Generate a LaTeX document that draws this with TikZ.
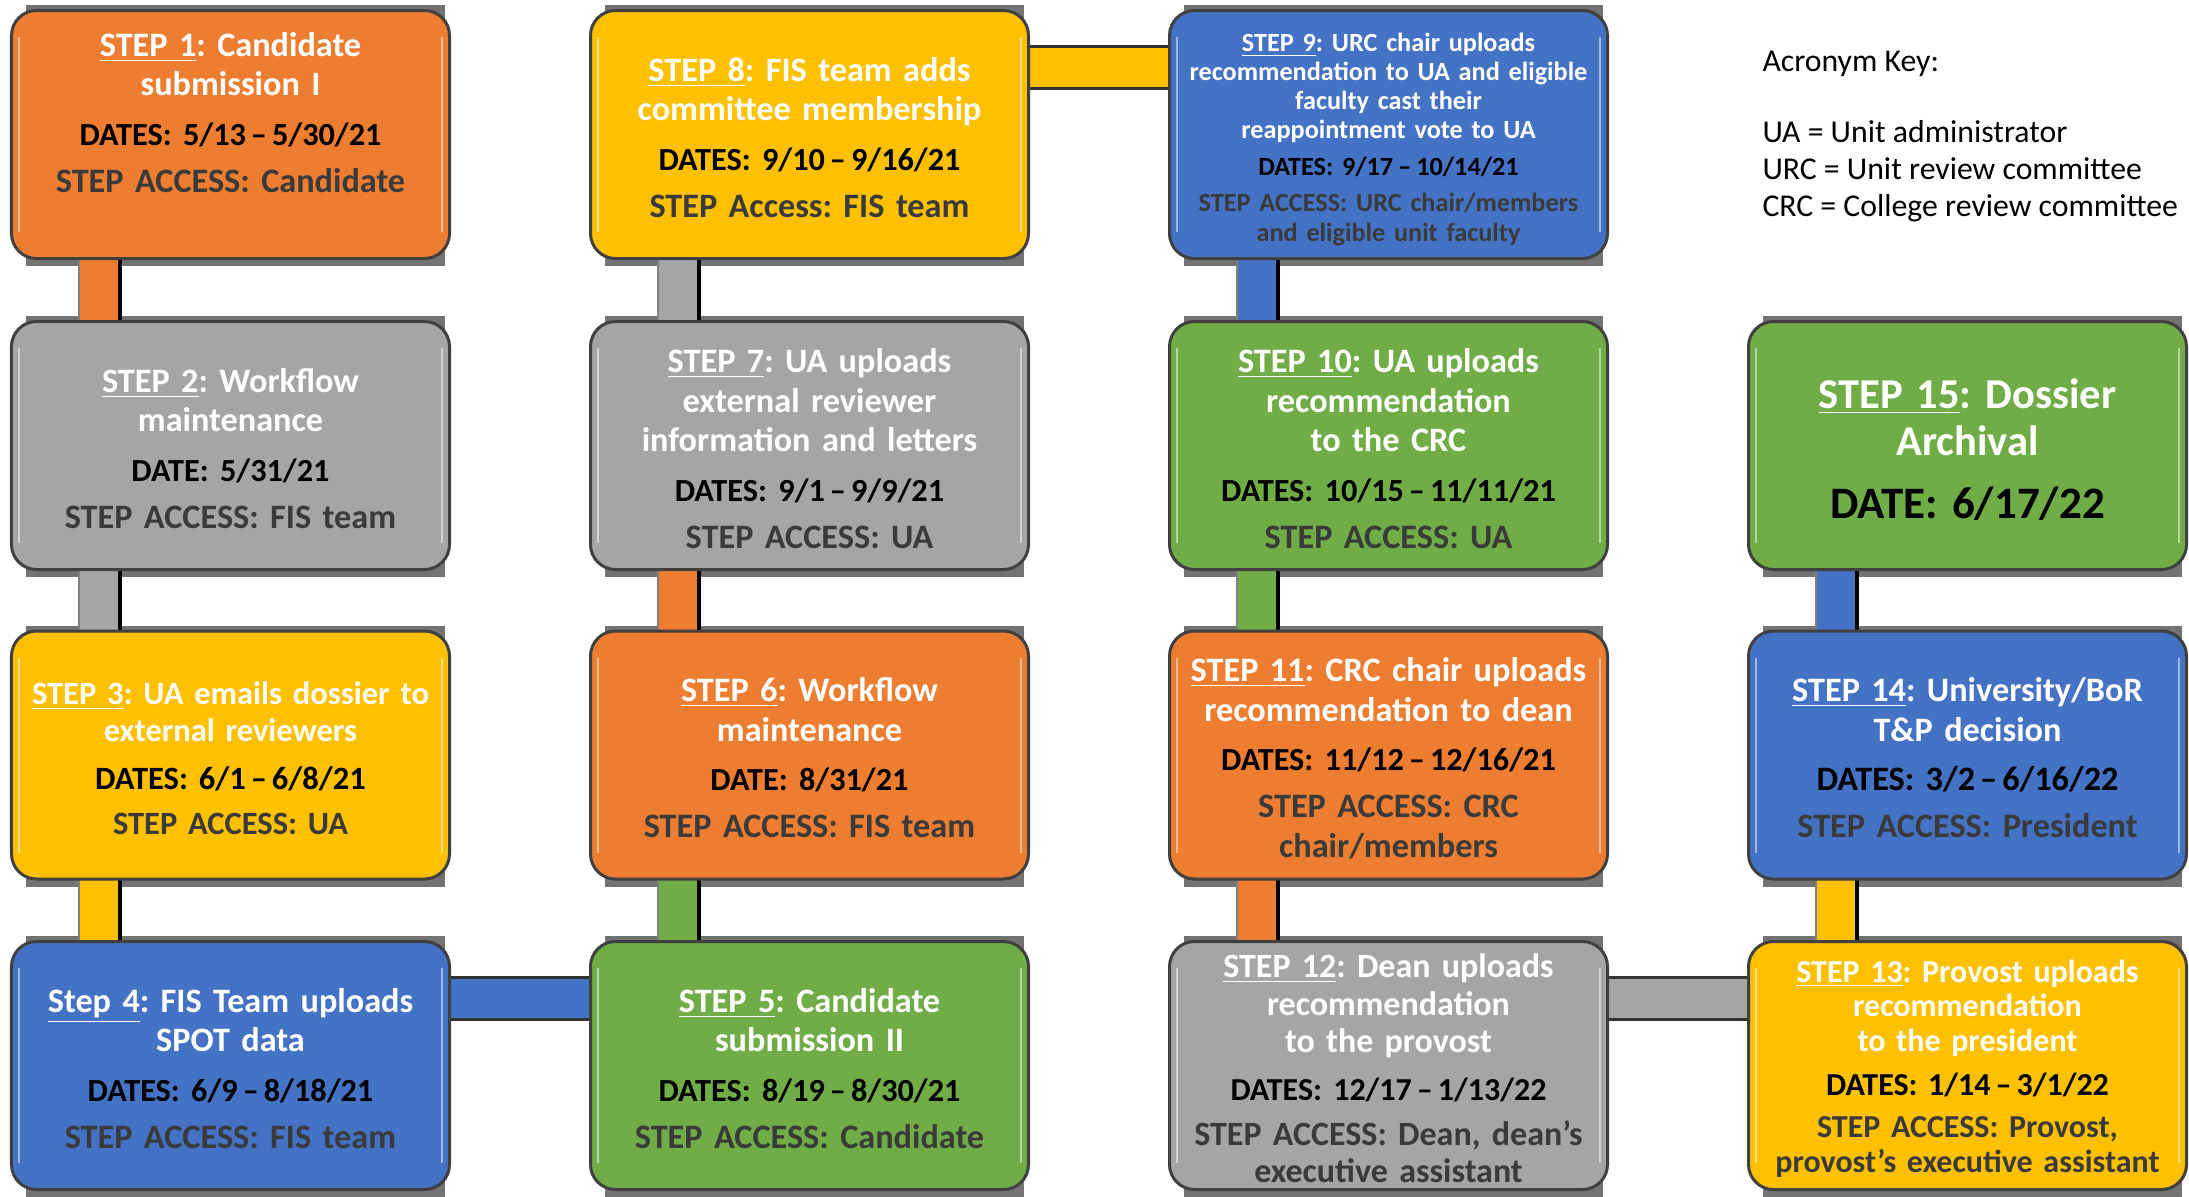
\documentclass[tikz,border=0pt]{standalone}
\usepackage{fontspec}
\setmainfont{Carlito}
\frenchspacing
\usetikzlibrary{calc}
\definecolor{orng}{HTML}{ED7D31}
\definecolor{gry}{HTML}{A5A5A5}
\definecolor{ylw}{HTML}{FFC000}
\definecolor{blu}{HTML}{4472C4}
\definecolor{grn}{HTML}{70AD47}
\definecolor{acc}{HTML}{3A3A3A}
\pgfdeclarelayer{bg}
\pgfdeclarelayer{paper}
\pgfsetlayers{paper,bg,main}
\tikzset{
  stepbox/.style={draw=black!75, line width=1.2pt, rounded corners=10pt,
    minimum width=175.2pt, minimum height=99.2pt, inner sep=0pt},
  txt/.style={text width=172pt, align=center, inner sep=0pt, text=white,
    font=\bfseries\fontsize{13.7}{15.8}\selectfont},
  keytxt/.style={anchor=base west, inner sep=0pt,
    font=\fontsize{12.7}{14}\selectfont, text=black},
}
\newcommand\dsh{\kern2pt–\kern2pt}
\newcommand\dl{\\[4pt]\color{black}\fontsize{12.9}{15.8}\selectfont}
\newcommand\al{\\[3pt]\color{acc}\fontsize{13.7}{15.8}\selectfont}
\newcommand\vconn[3]{%
  \fill[#3] ($(#1.south west)+(69,-10)$) rectangle ($(#2.north west)+(110,10)$);
  \draw[black!50, line width=0.6pt] ($(#1.south west)+(69,-10)$) -- ($(#2.north west)+(69,10)$);
  \draw[black, line width=1.8pt] ($(#1.south west)+(110,-10)$) -- ($(#2.north west)+(110,10)$);
}
\newcommand\hconn[3]{%
  \fill[#3] ($(#1.north east)+(-10,37)$) rectangle ($(#2.north west)+(10,79)$);
  \draw[black!80, line width=1.2pt] ($(#1.north east)+(-10,37)$) -- ($(#2.north west)+(10,37)$);
  \draw[black!80, line width=1.2pt] ($(#1.north east)+(-10,79)$) -- ($(#2.north west)+(10,79)$);
}
\begin{document}
\begin{tikzpicture}[x=0.4pt,y=-0.4pt]
\begin{pgfonlayer}{paper}
\fill[white] (0,0) rectangle (2189,1196);
\end{pgfonlayer}
\useasboundingbox (0,0) rectangle (2189,1196);

% boxes
\node[stepbox, fill=orng] (s1)  at (230.5,134.5)  {};
\node[stepbox, fill=gry]  (s2)  at (230.5,445.5)  {};
\node[stepbox, fill=ylw]  (s3)  at (230.5,755)    {};
\node[stepbox, fill=blu]  (s4)  at (230.5,1065.5) {};
\node[stepbox, fill=grn]  (s5)  at (809.5,1065.5) {};
\node[stepbox, fill=orng] (s6)  at (809.5,755)    {};
\node[stepbox, fill=gry]  (s7)  at (809.5,445.5)  {};
\node[stepbox, fill=ylw]  (s8)  at (809.5,134.5)  {};
\node[stepbox, fill=blu]  (s9)  at (1388.5,134.5) {};
\node[stepbox, fill=grn]  (s10) at (1388.5,445.5) {};
\node[stepbox, fill=orng] (s11) at (1388.5,755)   {};
\node[stepbox, fill=gry]  (s12) at (1388.5,1065.5){};
\node[stepbox, fill=ylw]  (s13) at (1967.5,1065.5){};
\node[stepbox, fill=blu]  (s14) at (1967.5,755)   {};
\node[stepbox, fill=grn]  (s15) at (1967.5,445.5) {};

% shadows and connectors
\begin{pgfonlayer}{bg}
\foreach \n in {1,...,15}{
  \fill[black!55] ($(s\n.north west)+(16,-4)$) rectangle ($(s\n.south east)+(-6,6)$);
}
\vconn{s1}{s2}{orng}
\vconn{s2}{s3}{gry}
\vconn{s3}{s4}{ylw}
\hconn{s4}{s5}{blu}
\vconn{s6}{s5}{grn}
\vconn{s7}{s6}{orng}
\vconn{s8}{s7}{gry}
\hconn{s8}{s9}{ylw}
\vconn{s9}{s10}{blu}
\vconn{s10}{s11}{grn}
\vconn{s11}{s12}{orng}
\hconn{s12}{s13}{gry}
\vconn{s14}{s13}{ylw}
\vconn{s15}{s14}{blu}
\end{pgfonlayer}

% highlights
\foreach \n in {1,...,15}{
  \draw[white, opacity=0.5, line width=1pt] ($(s\n.north west)+(9,28)$) -- ($(s\n.south west)+(9,-28)$);
  \draw[white, opacity=0.5, line width=1pt] ($(s\n.north east)+(-9,28)$) -- ($(s\n.south east)+(-9,-28)$);
}

% texts
\node[txt] (t1) at ($(s1.center)+(0,-22)$) {\underline{STEP 1}: Candidate\\submission I\dl DATES: 5/13\dsh5/30/21\al STEP ACCESS: Candidate};
\node[txt] (t2) at ($(s2.center)+(0,3)$) {\underline{STEP 2}: Workflow\\maintenance\dl DATE: 5/31/21\al STEP ACCESS: FIS team};
\node[txt, font=\bfseries\fontsize{13}{15}\selectfont] (t3) at ($(s3.center)+(0,3)$) {\underline{STEP 3}: UA emails dossier to\\external reviewers\\[4pt]\color{black}DATES: 6/1\dsh6/8/21\\[3pt]\color{acc}STEP ACCESS: UA};
\node[txt] (t4) at ($(s4.center)+(0,3)$) {\underline{Step 4}: FIS Team uploads\\SPOT data\dl DATES: 6/9\dsh8/18/21\al STEP ACCESS: FIS team};
\node[txt] (t5) at ($(s5.center)+(0,3)$) {\underline{STEP 5}: Candidate\\submission II\dl DATES: 8/19\dsh8/30/21\al STEP ACCESS: Candidate};
\node[txt] (t6) at ($(s6.center)+(0,3)$) {\underline{STEP 6}: Workflow\\maintenance\dl DATE: 8/31/21\al STEP ACCESS: FIS team};
\node[txt] (t7) at ($(s7.center)+(0,3)$) {\underline{STEP 7}: UA uploads\\external reviewer\\information and letters\dl DATES: 9/1\dsh9/9/21\al STEP ACCESS: UA};
\node[txt] (t8) at ($(s8.center)+(0,3)$) {\underline{STEP 8}: FIS team adds\\committee membership\dl DATES: 9/10\dsh9/16/21\al STEP Access: FIS team};
\node[txt, font=\bfseries\fontsize{10.5}{11.6}\selectfont] (t9) at ($(s9.center)+(0,5)$) {\underline{STEP 9}: URC chair uploads\\recommendation to UA and eligible\\faculty cast their\\reappointment vote to UA\\[3pt]\color{black}DATES: 9/17\dsh10/14/21\\[3pt]\color{acc}STEP ACCESS: URC chair/members\\and eligible unit faculty};
\node[txt] (t10) at ($(s10.center)+(0,3)$) {\underline{STEP 10}: UA uploads\\recommendation\\to the CRC\dl DATES: 10/15\dsh11/11/21\al STEP ACCESS: UA};
\node[txt] (t11) at ($(s11.center)+(0,3)$) {\underline{STEP 11}: CRC chair uploads\\recommendation to dean\dl DATES: 11/12\dsh12/16/21\al STEP ACCESS: CRC\\chair/members};
\node[txt, font=\bfseries\fontsize{13.6}{15}\selectfont] (t12) at ($(s12.center)+(0,3)$) {\underline{STEP 12}: Dean uploads\\recommendation\\to the provost\\[4pt]\color{black}\fontsize{12.8}{15}\selectfont DATES: 12/17\dsh1/13/22\\[3pt]\color{acc}\fontsize{13.6}{15}\selectfont STEP ACCESS: Dean, dean’s\\executive assistant};
\node[txt, font=\bfseries\fontsize{12.8}{13.8}\selectfont] (t13) at ($(s13.center)+(0,3)$) {\underline{STEP 13}: Provost uploads\\recommendation\\to the president\\[4pt]\color{black}DATES: 1/14\dsh3/1/22\\[3pt]\color{acc}STEP ACCESS: Provost,\\provost’s executive assistant};
\node[txt] (t14) at ($(s14.center)+(0,3)$) {\underline{STEP 14}: University/BoR\\T\&P decision\\[4pt]\color{black}DATES: 3/2\dsh6/16/22\\[3pt]\color{acc}STEP ACCESS: President};
\node[txt, font=\bfseries\fontsize{17}{19}\selectfont] (t15) at ($(s15.center)+(0,4)$) {\underline{STEP 15}: Dossier\\Archival\\[6pt]\color{black}\fontsize{18}{20}\selectfont DATE: 6/17/22};

% acronym key
\node[keytxt] (k0) at (1762,71)  {Acronym Key:};
\node[keytxt] (k1) at (1762,142) {UA = Unit administrator};
\node[keytxt] (k2) at (1762,179) {URC = Unit review committee};
\node[keytxt] (k3) at (1762,216) {CRC = College review committee};
\end{tikzpicture}
\end{document}
